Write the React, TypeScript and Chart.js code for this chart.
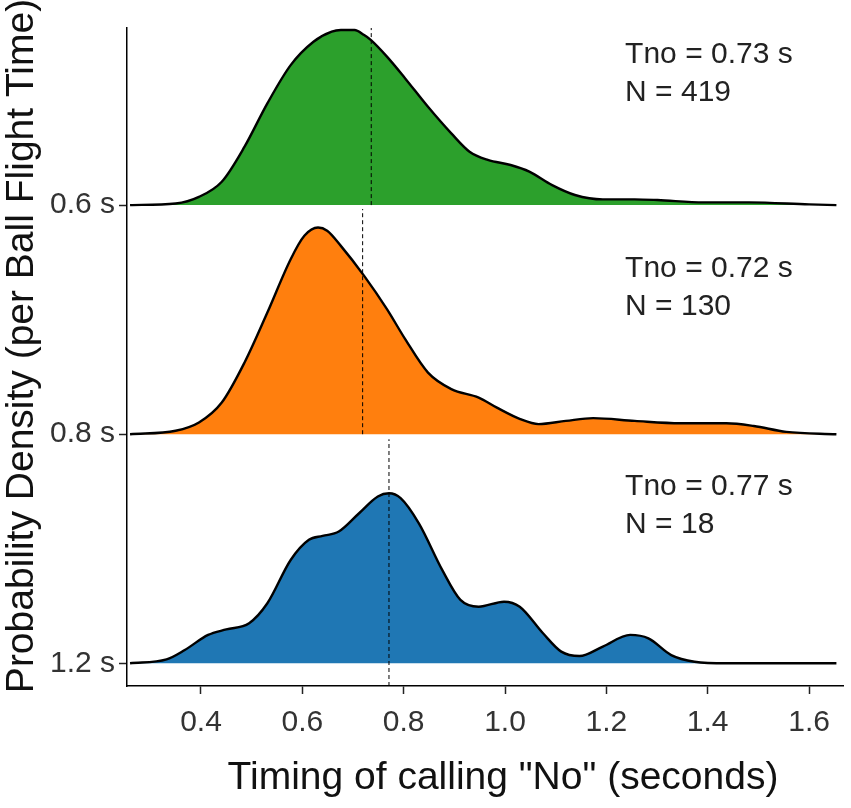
import React, { useEffect, useRef } from 'react';
import { Chart, registerables } from 'chart.js';

Chart.register(...registerables);

// Groups (bottom to top on the y axis): ball flight time
const groupLabels = ['1.2 s', '0.8 s', '0.6 s'];
const xTicks = [0.4, 0.6, 0.8, 1.0, 1.2, 1.4, 1.6];

// Density estimates, per group
const greenX = [0.26, 0.35, 0.396, 0.441, 0.486, 0.531, 0.577, 0.622, 0.658, 0.676, 0.703, 0.722, 0.735, 0.767, 0.803, 0.848, 0.894, 0.93, 0.966, 1.011, 1.048, 1.093, 1.138, 1.193, 1.256, 1.301, 1.392, 1.482, 1.6, 1.654];
const greenDensity = [0, 0.007, 0.036, 0.102, 0.255, 0.444, 0.611, 0.713, 0.757, 0.764, 0.764, 0.742, 0.721, 0.648, 0.553, 0.429, 0.313, 0.233, 0.197, 0.175, 0.146, 0.087, 0.044, 0.025, 0.025, 0.022, 0.012, 0.012, 0.003, 0];

const orangeX = [0.26, 0.35, 0.396, 0.441, 0.486, 0.531, 0.577, 0.604, 0.631, 0.649, 0.676, 0.722, 0.767, 0.803, 0.848, 0.894, 0.948, 0.984, 1.03, 1.066, 1.12, 1.174, 1.256, 1.346, 1.437, 1.491, 1.555, 1.654];
const orangeDensity = [0, 0.015, 0.051, 0.138, 0.313, 0.531, 0.764, 0.866, 0.902, 0.888, 0.822, 0.691, 0.546, 0.415, 0.269, 0.197, 0.16, 0.116, 0.066, 0.044, 0.058, 0.07, 0.058, 0.048, 0.048, 0.036, 0.01, 0];

const blueX = [0.26, 0.332, 0.368, 0.414, 0.45, 0.495, 0.531, 0.577, 0.613, 0.64, 0.672, 0.712, 0.749, 0.771, 0.794, 0.83, 0.876, 0.912, 0.948, 0.998, 1.029, 1.075, 1.111, 1.147, 1.193, 1.247, 1.283, 1.328, 1.374, 1.437, 1.654];
const blueDensity = [0, 0.017, 0.058, 0.124, 0.148, 0.175, 0.262, 0.451, 0.539, 0.556, 0.575, 0.655, 0.728, 0.742, 0.721, 0.611, 0.408, 0.277, 0.247, 0.269, 0.247, 0.131, 0.051, 0.032, 0.073, 0.124, 0.109, 0.036, 0.007, 0, 0];

// Mean timing per group (bottom to top) and annotation texts
const meanTimes = [0.771, 0.719, 0.736];
const tnoLabels = ['Tno = 0.77 s', 'Tno = 0.72 s', 'Tno = 0.73 s'];
const nLabels = ['N = 18', 'N = 130', 'N = 419'];
const labelX = 1.237;
const labelY = [0.735, 1.684, 2.619];

// Vertical extent of each dashed mean line (in y units)
const meanLineBottom = [-0.099, 1, 2];
const meanLineTop = [0.978, 1.983, 2.773];

const xTitle = 'Timing of calling "No" (seconds)';
const yTitle = 'Probability Density (per Ball Flight Time)';

const FONT = "'Liberation Sans', Arial, Helvetica, sans-serif";
const Y_MIN = -0.099;
const Y_MAX = 2.773;

const annotationPlugin = {
  id: 'ridgeText',
  afterDraw(chart: any) {
    const { ctx, scales } = chart;
    const x = scales.x;
    const y = scales.y;
    ctx.save();
    ctx.font = `30px ${FONT}`;
    ctx.fillStyle = '#222222';
    ctx.textAlign = 'left';
    ctx.textBaseline = 'alphabetic';
    for (let i = 0; i < tnoLabels.length; i++) {
      const px = x.getPixelForValue(labelX);
      const py = y.getPixelForValue(labelY[i]);
      ctx.fillText(tnoLabels[i], px, py);
      ctx.fillText(nLabels[i], px, py + 38);
    }
    // axis titles
    ctx.fillStyle = '#111111';
    ctx.font = `39px ${FONT}`;
    ctx.textAlign = 'center';
    ctx.textBaseline = 'middle';
    ctx.fillText(xTitle, 503, 778.5);
    ctx.translate(22, 346);
    ctx.rotate(-Math.PI / 2);
    ctx.fillText(yTitle, 0, 0);
    ctx.restore();
  },
};

function ridge(xs: number[], ds: number[], base: number) {
  return xs.map((v, i) => ({ x: v, y: base + ds[i] }));
}

export default function App() {
  const ref = useRef<HTMLCanvasElement | null>(null);

  useEffect(() => {
    if (!ref.current) return;
    Chart.defaults.font.family = FONT;

    const series = [
      { xs: blueX, ds: blueDensity, base: 0, color: '#1f77b4' },
      { xs: orangeX, ds: orangeDensity, base: 1, color: '#ff7f0e' },
      { xs: greenX, ds: greenDensity, base: 2, color: '#2ca02c' },
    ];

    const densitySets = series.map((s, i) => ({
      type: 'line' as const,
      data: ridge(s.xs, s.ds, s.base),
      borderColor: '#000000',
      borderWidth: 2.4,
      backgroundColor: s.color,
      fill: { value: s.base },
      cubicInterpolationMode: 'monotone' as const,
      pointRadius: 0,
      order: 10 - i,
    }));

    const meanSets = meanTimes.map((m, i) => ({
      type: 'line' as const,
      data: [
        { x: m, y: meanLineBottom[i] },
        { x: m, y: meanLineTop[i] },
      ],
      borderColor: '#000000',
      borderWidth: 1,
      borderDash: [4, 3],
      fill: false,
      pointRadius: 0,
      order: 0,
    }));

    const chart = new Chart(ref.current, {
      type: 'line',
      data: { datasets: [...densitySets, ...meanSets] as any },
      options: {
        animation: false,
        responsive: false,
        layout: { padding: { top: 28, right: 8, left: 0, bottom: 0 } },
        plugins: {
          legend: { display: false },
          tooltip: { enabled: false },
        },
        elements: { point: { radius: 0 } },
        scales: {
          x: {
            type: 'linear',
            min: 0.254,
            max: 1.667,
            afterBuildTicks: (s: any) => {
              s.ticks = xTicks.map((v) => ({ value: v }));
            },
            afterFit: (s: any) => {
              s.height = 122;
            },
            ticks: {
              callback: (v: any) => Number(v).toFixed(1),
              font: { size: 30 },
              color: '#333333',
              padding: 11,
              maxRotation: 0,
              autoSkip: false,
            },
            grid: {
              display: true,
              drawOnChartArea: false,
              drawTicks: true,
              tickLength: 8,
              tickWidth: 1.5,
              tickColor: '#222222',
            },
            border: { display: true, color: '#000000', width: 1.5 },
            title: { display: false },
          },
          y: {
            type: 'linear',
            min: Y_MIN,
            max: Y_MAX,
            afterBuildTicks: (s: any) => {
              s.ticks = groupLabels.map((_, i) => ({ value: i }));
            },
            afterFit: (s: any) => {
              s.width = 127;
            },
            ticks: {
              callback: (v: any) => groupLabels[Math.round(Number(v))] ?? '',
              font: { size: 30 },
              color: '#333333',
              padding: 4,
              autoSkip: false,
            },
            grid: {
              display: true,
              drawOnChartArea: false,
              drawTicks: true,
              tickLength: 8,
              tickWidth: 1.5,
              tickColor: '#222222',
            },
            border: { display: true, color: '#000000', width: 1.5 },
            title: { display: false },
          },
        },
      },
      plugins: [annotationPlugin],
    });

    return () => chart.destroy();
  }, []);

  return (
    <div style={{ position: 'absolute', left: 0, top: 0, width: 851, height: 808, background: '#ffffff' }}>
      <canvas ref={ref} width={851} height={808} style={{ display: 'block' }} />
    </div>
  );
}
